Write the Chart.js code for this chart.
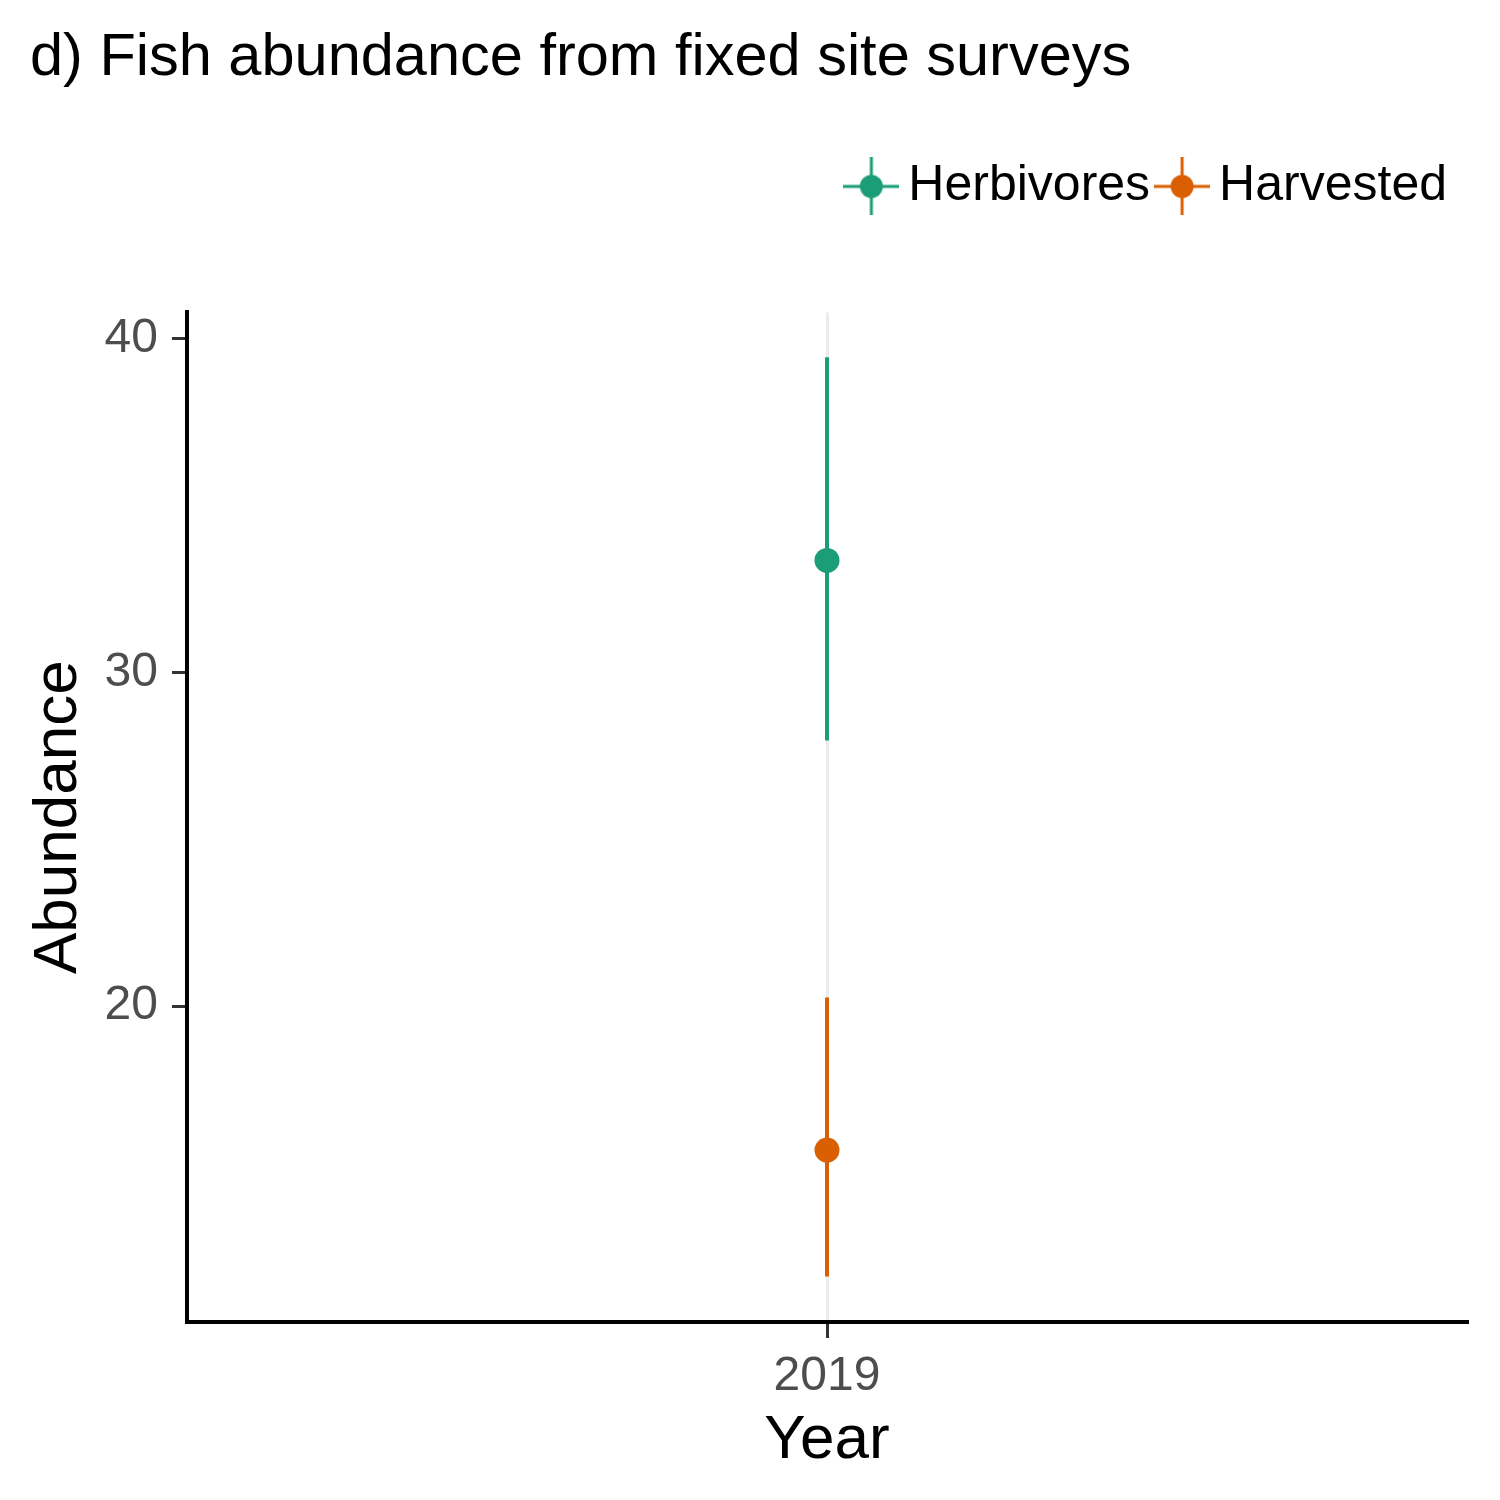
<!DOCTYPE html>
<html>
<head>
<meta charset="utf-8">
<script src="https://cdn.jsdelivr.net/npm/chart.js@4/dist/chart.umd.min.js"></script>
<style>
  html, body { margin: 0; padding: 0; background: #ffffff; }
  #wrap { width: 1500px; height: 1500px; }
</style>
</head>
<body>
<div id="wrap"><canvas id="c" width="1500" height="1500"></canvas></div>
<script>
const years = ['2019'];
const seriesNames = ['Herbivores', 'Harvested'];
const seriesColors = ['#1b9e77', '#d95f02'];
const herbMean = [33.35];
const herbLower = [27.96];
const herbUpper = [39.44];
const harvMean = [15.69];
const harvLower = [11.90];
const harvUpper = [20.26];
const yTicks = [20, 30, 40];
const yMin = 10.54;
const yMax = 40.78;
const titleText = 'd) Fish abundance from fixed site surveys';
const xTitle = 'Year';
const yTitle = 'Abundance';

const FONT = '"Liberation Sans", Arial, sans-serif';

function legendSymbol(color) {
  const cv = document.createElement('canvas');
  cv.width = 56; cv.height = 58;
  const c = cv.getContext('2d');
  c.strokeStyle = color; c.fillStyle = color; c.lineWidth = 3;
  c.beginPath(); c.moveTo(0, 29); c.lineTo(56, 29); c.stroke();
  c.beginPath(); c.moveTo(28, 0); c.lineTo(28, 58); c.stroke();
  c.beginPath(); c.arc(28, 29, 11.5, 0, Math.PI * 2); c.fill();
  return cv;
}

const errLower = [herbLower, harvLower];
const errUpper = [herbUpper, harvUpper];

const errorBarPlugin = {
  id: 'errorBars',
  beforeDatasetsDraw(chart) {
    const ctx = chart.ctx;
    const xs = chart.scales.x, ys = chart.scales.y;
    chart.data.datasets.forEach((ds, di) => {
      ds.data.forEach((v, i) => {
        const x = xs.getPixelForValue(i);
        const yl = ys.getPixelForValue(errLower[di][i]);
        const yu = ys.getPixelForValue(errUpper[di][i]);
        ctx.save();
        ctx.strokeStyle = ds.borderColor;
        ctx.lineWidth = 4;
        ctx.beginPath(); ctx.moveTo(x, yu); ctx.lineTo(x, yl); ctx.stroke();
        ctx.restore();
      });
    });
  }
};

const spacerPlugin = {
  id: 'spacer',
  beforeInit(chart) {
    const box = {
      position: 'top', weight: 500, fullSize: true, options: {},
      isHorizontal() { return true; },
      getPadding() { return { top: 0, bottom: 0, left: 0, right: 0 }; },
      update(maxWidth) { this.width = maxWidth; this.height = 91; },
      draw() {}
    };
    Chart.layouts.addBox(chart, box);
  }
};

new Chart(document.getElementById('c'), {
  type: 'line',
  data: {
    labels: years,
    datasets: [
      { label: seriesNames[0], data: herbMean, borderColor: seriesColors[0], backgroundColor: seriesColors[0],
        showLine: false, pointRadius: 12.5, pointBorderWidth: 0, pointHoverRadius: 12.5 },
      { label: seriesNames[1], data: harvMean, borderColor: seriesColors[1], backgroundColor: seriesColors[1],
        showLine: false, pointRadius: 12.5, pointBorderWidth: 0, pointHoverRadius: 12.5 }
    ]
  },
  plugins: [errorBarPlugin, spacerPlugin],
  options: {
    responsive: false,
    animation: false,
    devicePixelRatio: 1,
    layout: { padding: { left: 30, right: 33, top: 0, bottom: 0 } },
    plugins: {
      tooltip: { enabled: false },
      title: {
        display: true, text: titleText, align: 'start', color: '#000000',
        font: { family: FONT, size: 59.5, weight: 'normal', lineHeight: 1.2 },
        padding: { top: 23, bottom: 47 }
      },
      legend: {
        display: true, position: 'top', align: 'end',
        labels: {
          color: '#000000',
          font: { family: FONT, size: 50 },
          usePointStyle: true, pointStyleWidth: 24, padding: 20,
          generateLabels(chart) {
            return chart.data.datasets.map((ds, i) => ({
              text: ds.label, fontColor: '#000000', pointStyle: legendSymbol(seriesColors[i]),
              fillStyle: seriesColors[i], strokeStyle: seriesColors[i], lineWidth: 0, datasetIndex: i, hidden: false
            }));
          }
        }
      }
    },
    scales: {
      x: {
        type: 'category', offset: true,
        afterFit(s) { s.height = 178; },
        grid: { display: true, offset: false, drawOnChartArea: true, color: '#ebebeb', lineWidth: 3,
                drawTicks: true, tickColor: '#333333', tickLength: 16, tickWidth: 3 },
        border: { display: true, color: '#000000', width: 4 },
        ticks: { color: '#4d4d4d', font: { family: FONT, size: 48 }, padding: 10, maxRotation: 0 },
        title: { display: true, text: xTitle, color: '#000000', font: { family: FONT, size: 62, lineHeight: 1.2 },
                 padding: { top: 0, bottom: 22 } }
      },
      y: {
        type: 'linear', min: yMin, max: yMax,
        afterFit(s) { s.width = 157; },
        afterBuildTicks(s) { s.ticks = yTicks.map(v => ({ value: v })); },
        grid: { display: true, drawOnChartArea: false, drawTicks: true, tickColor: '#333333',
                tickLength: 15, tickWidth: 3, lineWidth: 3, color: '#333333' },
        border: { display: true, color: '#000000', width: 4 },
        ticks: { color: '#4d4d4d', font: { family: FONT, size: 48 }, padding: 14 },
        title: { display: true, text: yTitle, color: '#000000', font: { family: FONT, size: 62, lineHeight: 0.92 },
                 padding: { top: 0, bottom: 0 } }
      }
    }
  }
});
</script>
</body>
</html>
